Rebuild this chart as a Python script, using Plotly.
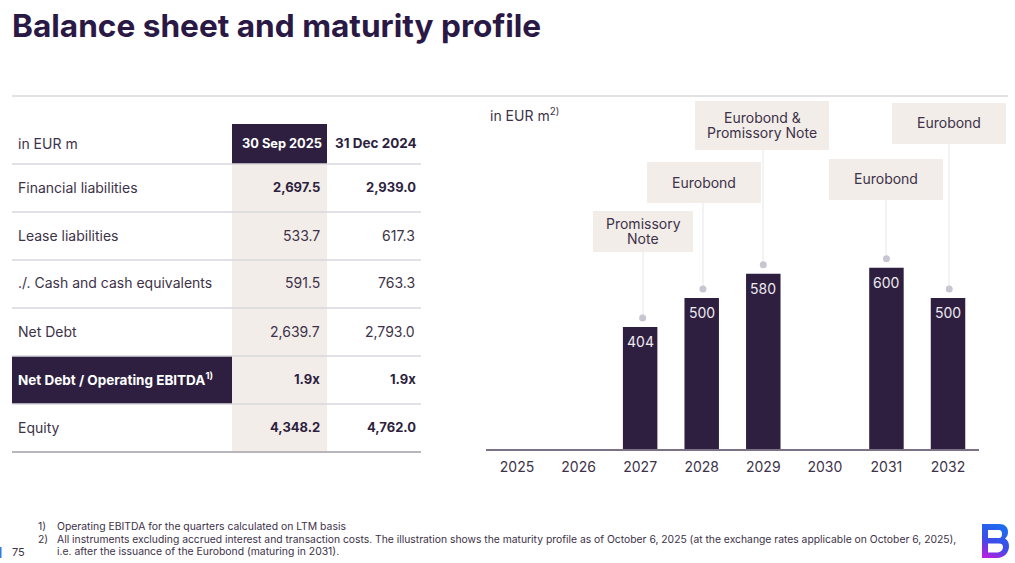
import base64
import plotly.graph_objects as go

W, H = 1015, 563
DARK = "#2e1f40"
BEIGE = "#f2ede8"
RULE = "#d8d7dc"
INK = "#3d3249"
FONT = "Inter"

# table
col_head = ["in EUR m", "30 Sep 2025", "31 Dec 2024"]
row_names = ["Financial liabilities", "Lease liabilities", "./. Cash and cash equivalents",
             "Net Debt", "Net Debt / Operating EBITDA<sup>1)</sup>", "Equity"]
sep_2025 = ["2,697.5", "533.7", "591.5", "2,639.7", "1.9x", "4,348.2"]
dec_2024 = ["2,939.0", "617.3", "763.3", "2,793.0", "1.9x", "4,762.0"]
bold_rows = [0, 4, 5]

# maturity bars
years = ["2025", "2026", "2027", "2028", "2029", "2030", "2031", "2032"]
bar_years = ["2027", "2028", "2029", "2031", "2032"]
maturity = [404, 500, 580, 600, 500]
callouts = [["Promissory", "Note"], ["Eurobond"], ["Eurobond &", "Promissory Note"], ["Eurobond"], ["Eurobond"]]

footnote_1 = "Operating EBITDA for the quarters calculated on LTM basis"
footnote_2a = ("All instruments excluding accrued interest and transaction costs. The illustration shows the "
               "maturity profile as of October 6, 2025 (at the exchange rates applicable on October 6, 2025),")
footnote_2b = "i.e. after the issuance of the Eurobond (maturing in 2031)."


def px(x):
    return x / W


def py(y):
    return 1 - y / H


shapes = []
annots = []


def rect(x0, y0, x1, y1, color):
    shapes.append(dict(type="rect", xref="paper", yref="paper", x0=px(x0), x1=px(x1), y0=py(y0), y1=py(y1),
                       fillcolor=color, line_width=0, layer="below"))


def rule(x0, y0, x1, y1, color=RULE, width=1.5):
    shapes.append(dict(type="line", xref="paper", yref="paper", x0=px(x0), x1=px(x1), y0=py(y0), y1=py(y1),
                       line=dict(color=color, width=width), layer="below"))


def label(x, y, text, size=14, color=INK, anchor="left", bold=False):
    if bold:
        text = "<b>" + text + "</b>"
    if anchor == "left":
        x -= 1
    annots.append(dict(xref="paper", yref="paper", x=px(x), y=py(y - 1), text=text, showarrow=False,
                       xanchor=anchor, yanchor="middle", align=anchor, borderpad=0,
                       font=dict(family=FONT, size=size, color=color)))


label(12, 26, "Balance sheet and maturity profile", size=31.6, color="#2a1845", bold=True)
rule(12, 96, 1008, 96)

# table backgrounds and rules
rect(232, 164, 327, 452, BEIGE)
rect(232, 124, 327, 164, DARK)
rect(12, 356, 232, 404, DARK)
row_lines = [164, 212, 260, 308, 356, 404]
for y in row_lines:
    rule(12, y, 421, y)
rule(12, 452, 421, 452, color="#b8b6bc", width=2)

label(18, 144, col_head[0])
label(323, 144, col_head[1], size=12.8, color="#ffffff", anchor="right", bold=True)
label(418, 144, col_head[2], size=13.5, color=DARK, anchor="right", bold=True)
for i, name in enumerate(row_names):
    y = 188 + i * 48
    b = i in bold_rows
    if i == 4:
        label(18, y, name, size=13.5, color="#ffffff", bold=True)
    else:
        label(18, y, name)
    label(321, y, sep_2025[i], size=13 if b else 14, color=DARK if b else INK, anchor="right", bold=b)
    label(417 if b else 416, y, dec_2024[i], size=13 if b else 14, color=DARK if b else INK, anchor="right", bold=b)

# chart callouts
label(490, 116, "in EUR m<sup>2)</sup>")
boxes = [(593, 211, 693, 252), (647, 162, 761, 203), (695, 101, 829, 150),
         (829, 159, 943, 200), (892, 103, 1006, 144)]
line_x = [643, 703, 763, 886, 949]
dot_y = [318, 290, 264, 261, 290]
dot_shift = [0.04, 0.02, 0, 0, 0.02]
for i, (x0, y0, x1, y1) in enumerate(boxes):
    rect(x0, y0, x1, y1, BEIGE)
    rule(line_x[i], y1, line_x[i], dot_y[i], color="#e7e6ea", width=1)
    lines = callouts[i]
    for j, txt in enumerate(lines):
        label((x0 + x1) / 2, (y0 + y1) / 2 + 0.5 + (j - (len(lines) - 1) / 2) * 16, txt, anchor="center")

# footnotes
label(38, 527, "1)", size=10.4)
label(57, 527, footnote_1, size=10.4)
label(38, 540, "2)", size=10.4)
label(57, 540, footnote_2a, size=10.34)
label(57, 552, footnote_2b, size=10.4)
label(12, 553, "75", size=11)
rect(0, 547, 1.5, 558, "#2f7de1")

bar_pos = [years.index(y) for y in bar_years]

fig = go.Figure()
fig.add_bar(x=bar_pos, y=maturity, width=0.56, marker=dict(color=DARK, line_width=0), hoverinfo="skip")
fig.add_scatter(x=[p + s for p, s in zip(bar_pos, dot_shift)], y=[v + 30 for v in maturity], mode="markers",
                marker=dict(size=7, color="#c9c6d3"), hoverinfo="skip")
for p, v in zip(bar_pos, maturity):
    annots.append(dict(xref="x", yref="y", x=p, y=v, text=str(v), showarrow=False, yanchor="top", yshift=-4,
                       font=dict(family=FONT, size=14, color="#eeeaf0")))

logo = """<svg xmlns='http://www.w3.org/2000/svg' viewBox='0 0 27 34'>
<defs><linearGradient id='g' x1='0.6' y1='0' x2='0.2' y2='1'>
<stop offset='0' stop-color='#1d6cf0'/><stop offset='0.55' stop-color='#3f4be8'/><stop offset='1' stop-color='#b81fe0'/></linearGradient></defs>
<path fill='url(#g)' fill-rule='evenodd' d='M0 0H17C23 0 26 3.5 26 8C26 11 25 13 23 14.5C25.5 16 27 18.5 27 22C27 29 22 34 15 34H0ZM6 6V14H17C19 14 20 12.5 20 10C20 7.5 19 6 17 6ZM6 19.5V28.5H15C18.5 28.5 21 26 21 23C21 20.5 19.5 19.5 17 19.5Z'/>
</svg>"""
logo_uri = "data:image/svg+xml;base64," + base64.b64encode(logo.encode()).decode()

fig.update_layout(
    width=W, height=H, margin=dict(l=0, r=0, t=0, b=0), autosize=False,
    paper_bgcolor="white", plot_bgcolor="rgba(0,0,0,0)", showlegend=False,
    font=dict(family=FONT, color=INK),
    shapes=shapes, annotations=annots,
    images=[dict(source=logo_uri, xref="paper", yref="paper", x=px(982), y=py(524), sizex=27 / W, sizey=34 / H,
                 xanchor="left", yanchor="top", sizing="stretch", layer="above")],
    xaxis=dict(domain=[px(486.2), px(978.8)], range=[-0.5, 7.5], tickmode="array", tickvals=list(range(len(years))),
               ticktext=years, showgrid=False, showline=True, linecolor="#7d7285", linewidth=2,
               ticks="", ticklabelstandoff=4, tickfont=dict(family=FONT, size=14, color=INK), zeroline=False,
               fixedrange=True),
    yaxis=dict(domain=[py(449), py(96)], range=[0, 1169], visible=False, showgrid=False, fixedrange=True),
)

fig.write_html("out.html", post_script="document.body.style.margin='0';", config=dict(displayModeBar=False))
